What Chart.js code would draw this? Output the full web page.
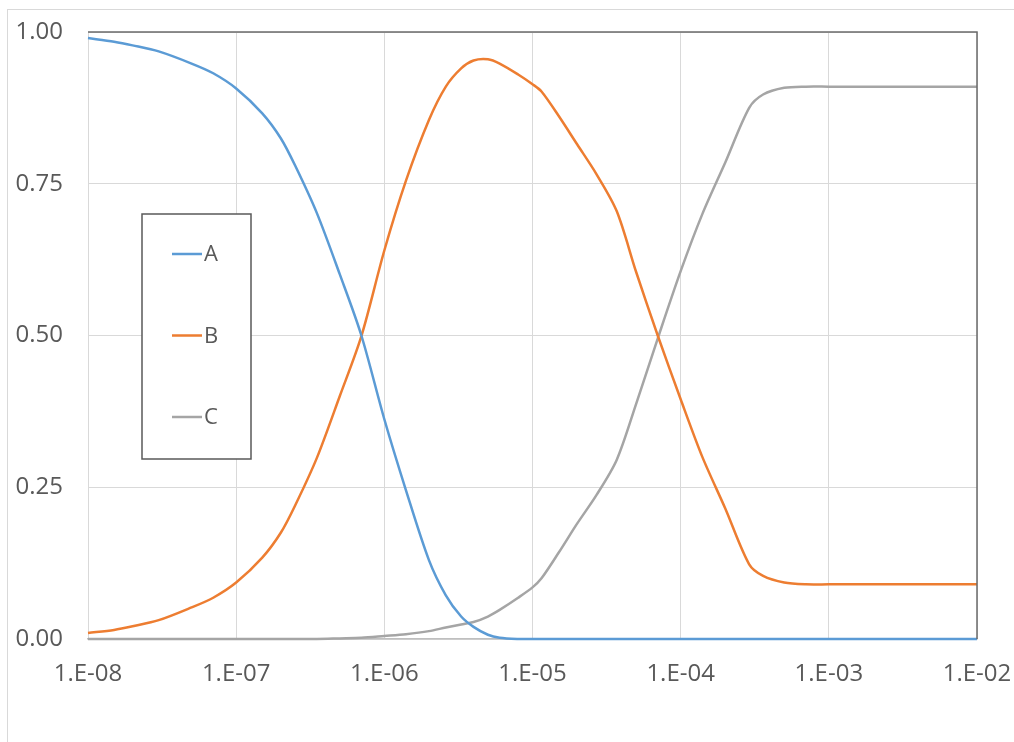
<!DOCTYPE html>
<html>
<head>
<meta charset="utf-8">
<script src="https://cdn.jsdelivr.net/npm/chart.js@4.4.1/dist/chart.umd.min.js"></script>
<style>
    html, body { margin: 0; padding: 0; background: #fff; overflow: hidden; }
    #frame { position: absolute; left: 7px; top: 9px; width: 1100px; height: 800px; border: 1px solid #d9d9d9; }
    #chart { position: absolute; left: 0; top: 0; }
</style>
</head>
<body>
<div id="frame"></div>
<canvas id="chart" width="1014" height="742"></canvas>
<script>
// x positions (log axis) and the three fractions
const xValues = [1e-8, 1.5e-8, 2e-8, 3e-8, 5e-8, 7e-8, 1e-7, 1.5e-7, 2e-7, 2.5e-7, 3.5e-7, 5e-7, 7e-7,
    1e-6, 1.4e-6, 2e-6, 2.6e-6, 3.3e-6, 4e-6, 5e-6, 6e-6, 8e-6,
    1e-5, 1.15e-5, 1.5e-5, 2e-5, 2.7e-5, 3.7e-5, 5e-5, 7e-5,
    1e-4, 1.4e-4, 2e-4, 2.9e-4, 3.6e-4, 5e-4, 7e-4,
    1e-3, 2e-3, 5e-3, 1e-2];
const seriesA = [0.990, 0.984, 0.978, 0.968, 0.948, 0.932, 0.907, 0.866, 0.825, 0.780, 0.702, 0.601, 0.500,
    0.362, 0.245, 0.130, 0.072, 0.037, 0.020, 0.007, 0.002, 0.000,
    0, 0, 0, 0, 0, 0, 0, 0,
    0, 0, 0, 0, 0, 0, 0,
    0, 0, 0, 0];
const seriesB = [0.010, 0.015, 0.021, 0.031, 0.052, 0.068, 0.093, 0.134, 0.175, 0.220, 0.298, 0.400, 0.499,
    0.640, 0.755, 0.855, 0.910, 0.940, 0.953, 0.955, 0.948, 0.930,
    0.914, 0.902, 0.862, 0.815, 0.766, 0.705, 0.605, 0.500,
    0.395, 0.300, 0.215, 0.123, 0.104, 0.093, 0.090,
    0.090, 0.090, 0.090, 0.090];
const seriesC = [0, 0, 0, 0, 0, 0, 0, 0, 0, 0, 0, 0.001, 0.002,
    0.005, 0.008, 0.013, 0.019, 0.024, 0.028, 0.037, 0.048, 0.068,
    0.085, 0.100, 0.142, 0.190, 0.237, 0.295, 0.387, 0.495,
    0.606, 0.700, 0.785, 0.875, 0.897, 0.908, 0.910,
    0.910, 0.910, 0.910, 0.910];
const seriesNames = ['A', 'B', 'C'];
const seriesColors = ['#5B9BD5', '#ED7D31', '#A5A5A5'];
const xTickValues = [1e-8, 1e-7, 1e-6, 1e-5, 1e-4, 1e-3, 1e-2];
const xTickLabels = ['1.E-08', '1.E-07', '1.E-06', '1.E-05', '1.E-04', '1.E-03', '1.E-02'];
const yTickValues = [0, 0.25, 0.5, 0.75, 1];

const textColor = '#595959';
const fontSpec = { family: '"Open Sans", sans-serif', size: 24 };

const allSeries = [seriesA, seriesB, seriesC];
const datasets = allSeries.map((values, i) => ({
    label: seriesNames[i],
    data: xValues.map((x, j) => ({ x: x, y: values[j] })),
    borderColor: seriesColors[i],
    backgroundColor: seriesColors[i],
    borderWidth: 2.5,
    pointRadius: 0,
    tension: 0.3,
    clip: false
}));

// top and right border of the plot area
const plotBorder = {
    id: 'plotBorder',
    afterDraw(chart) {
        const { ctx, chartArea } = chart;
        ctx.save();
        ctx.strokeStyle = '#6b6b6b';
        ctx.lineWidth = 1.5;
        ctx.beginPath();
        ctx.moveTo(chartArea.left, chartArea.top);
        ctx.lineTo(chartArea.right, chartArea.top);
        ctx.lineTo(chartArea.right, chartArea.bottom);
        ctx.stroke();
        ctx.restore();
    }
};

// boxed legend inside the plot, one entry per row
const boxLegend = {
    id: 'boxLegend',
    afterDraw(chart) {
        const ctx = chart.ctx;
        const box = { x: 142, y: 214, w: 109, h: 245 };
        ctx.save();
        ctx.fillStyle = '#fff';
        ctx.fillRect(box.x, box.y, box.w, box.h);
        ctx.strokeStyle = '#595959';
        ctx.lineWidth = 1.5;
        ctx.strokeRect(box.x, box.y, box.w, box.h);
        ctx.font = `${fontSpec.size - 2}px ${fontSpec.family}`;
        ctx.textBaseline = 'middle';
        ctx.textAlign = 'left';
        chart.data.datasets.forEach((ds, i) => {
            const y = 254 + i * 81.5;
            ctx.strokeStyle = ds.borderColor;
            ctx.lineWidth = 2.5;
            ctx.beginPath();
            ctx.moveTo(172, y);
            ctx.lineTo(202, y);
            ctx.stroke();
            ctx.fillStyle = textColor;
            ctx.fillText(ds.label, 204, y + 1);
        });
        ctx.restore();
    }
};

const ctx = document.getElementById('chart').getContext('2d');
const chart = new Chart(ctx, {
    type: 'line',
    data: { datasets: datasets },
    options: {
        responsive: false,
        animation: false,
        events: [],
        layout: { padding: { top: 32, right: 37, bottom: 0, left: 0 } },
        plugins: {
            legend: { display: false },
            tooltip: { enabled: false }
        },
        scales: {
            x: {
                type: 'logarithmic',
                min: xTickValues[0],
                max: xTickValues[xTickValues.length - 1],
                afterBuildTicks: (scale) => {
                    scale.ticks = xTickValues.map(v => ({ value: v }));
                },
                afterFit: (scale) => {
                    scale.height = 103;
                    scale.paddingLeft = 0;
                    scale.paddingRight = 0;
                },
                grid: { color: '#d9d9d9', lineWidth: 1, drawTicks: false },
                border: { color: '#bfbfbf', width: 1.5 },
                ticks: {
                    color: textColor,
                    font: fontSpec,
                    padding: 21,
                    maxRotation: 0,
                    autoSkip: false,
                    callback: (value) => xTickLabels[xTickValues.findIndex(v => Math.abs(Math.log10(v) - Math.log10(value)) < 1e-6)]
                }
            },
            y: {
                min: 0,
                max: 1,
                afterBuildTicks: (scale) => {
                    scale.ticks = yTickValues.map(v => ({ value: v }));
                },
                afterFit: (scale) => {
                    scale.width = 88;
                    scale.paddingTop = 0;
                    scale.paddingBottom = 0;
                },
                grid: { color: '#d9d9d9', lineWidth: 1, drawTicks: false },
                border: { color: '#d9d9d9', width: 1 },
                ticks: {
                    color: textColor,
                    font: fontSpec,
                    padding: 25,
                    callback: (value) => Number(value).toFixed(2)
                }
            }
        }
    },
    plugins: [plotBorder, boxLegend]
});
</script>
</body>
</html>
